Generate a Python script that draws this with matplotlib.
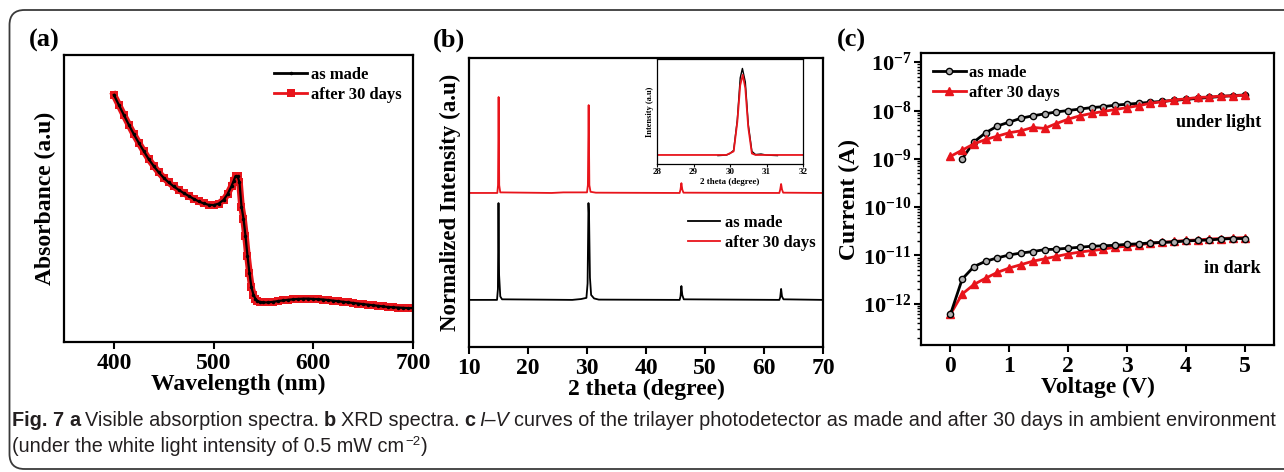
#!/usr/bin/env python3
import numpy as np
import matplotlib
matplotlib.use("Agg")
import matplotlib.pyplot as plt
from matplotlib.patches import FancyBboxPatch
from matplotlib.ticker import LogLocator, NullFormatter

plt.rcParams['font.family'] = ['Liberation Serif', 'DejaVu Serif']
plt.rcParams['font.weight'] = 'bold'
plt.rcParams['axes.labelweight'] = 'bold'
plt.rcParams['mathtext.fontset'] = 'custom'
plt.rcParams['mathtext.rm'] = 'Liberation Serif:bold'
plt.rcParams['mathtext.bf'] = 'Liberation Serif:bold'
plt.rcParams['mathtext.it'] = 'Liberation Serif:bold'

RED = '#e8141b'

# (a) absorption spectra
wavelength = [400, 405, 410, 415, 420, 425, 430, 435, 440, 445, 450, 455, 460, 465,
              470, 475, 480, 485, 490, 495, 500, 505, 510, 514, 518, 520, 522, 524,
              526, 528, 530, 532, 534, 536, 538, 540, 542, 544, 547, 550, 555, 560,
              565, 570, 575, 580, 585, 590, 595, 600, 605, 610, 615, 620, 625, 630,
              635, 640, 645, 650, 655, 660, 665, 670, 675, 680, 685, 690, 695, 700]
abs_made = [0.861, 0.826, 0.791, 0.757, 0.724, 0.694, 0.665, 0.637, 0.613, 0.591,
            0.572, 0.556, 0.542, 0.530, 0.519, 0.509, 0.499, 0.490, 0.483, 0.478,
            0.477, 0.482, 0.495, 0.515, 0.543, 0.560, 0.578, 0.578, 0.556, 0.472,
            0.430, 0.370, 0.300, 0.240, 0.190, 0.165, 0.150, 0.143, 0.139, 0.138,
            0.138, 0.140, 0.143, 0.145, 0.147, 0.149, 0.150, 0.151, 0.151, 0.150,
            0.149, 0.148, 0.146, 0.144, 0.142, 0.140, 0.138, 0.136, 0.134, 0.132,
            0.130, 0.128, 0.126, 0.124, 0.122, 0.121, 0.120, 0.119, 0.118, 0.118]
abs_30d = list(abs_made)

# (b) XRD
tt_made = [10, 14.75, 14.9, 15.0, 15.1, 15.3, 15.6, 27.5, 29.0, 29.9, 30.1, 30.25,
           30.35, 30.5, 30.7, 31.2, 32, 45.7, 45.85, 46.0, 46.15, 46.4, 62.6, 62.75,
           62.9, 63.05, 63.3, 70]
xrd_made = [0.163, 0.163, 0.20, 0.498, 0.25, 0.175, 0.165, 0.163, 0.166, 0.170, 0.22,
            0.498, 0.45, 0.24, 0.18, 0.168, 0.164, 0.163, 0.175, 0.211, 0.18, 0.165,
            0.163, 0.172, 0.201, 0.175, 0.165, 0.163]
tt_30d = [10, 14.8, 14.92, 15.02, 15.12, 15.3, 24, 26, 30.0, 30.15, 30.28, 30.4, 30.6,
          31.5, 45.7, 45.85, 46.0, 46.15, 46.35, 62.6, 62.75, 62.9, 63.05, 63.25, 70]
xrd_30d = [0.533, 0.533, 0.56, 0.865, 0.56, 0.535, 0.533, 0.535, 0.535, 0.56, 0.837,
           0.56, 0.537, 0.534, 0.533, 0.545, 0.567, 0.545, 0.534, 0.533, 0.545, 0.564,
           0.545, 0.534, 0.533]
# inset around the 30.3 degree peak
tt_in_made = [29.67, 29.9, 30.0, 30.1, 30.2, 30.28, 30.34, 30.42, 30.5, 30.6, 30.7,
              30.85, 31.0, 31.3]
in_made = [0.08, 0.085, 0.10, 0.13, 0.42, 0.82, 0.91, 0.78, 0.38, 0.12, 0.09, 0.095,
           0.085, 0.08]
tt_in_30d = [28, 29.9, 30.1, 30.2, 30.28, 30.35, 30.42, 30.5, 30.6, 30.7, 32]
in_30d = [0.086, 0.086, 0.12, 0.40, 0.75, 0.85, 0.72, 0.35, 0.10, 0.086, 0.086]

# (c) I-V, log10 of current (A)
volt = [0.0, 0.2, 0.4, 0.6, 0.8, 1.0, 1.2, 1.4, 1.6, 1.8, 2.0, 2.2, 2.4, 2.6, 2.8,
        3.0, 3.2, 3.4, 3.6, 3.8, 4.0, 4.2, 4.4, 4.6, 4.8, 5.0]
light_made = [-9.0, -8.65, -8.46, -8.32, -8.24, -8.16, -8.11, -8.07, -8.03, -8.00,
              -7.97, -7.94, -7.92, -7.89, -7.87, -7.85, -7.83, -7.81, -7.79, -7.77,
              -7.75, -7.73, -7.71, -7.69, -7.68]          # starts at 0.2 V
light_30d = [-8.95, -8.82, -8.69, -8.60, -8.53, -8.46, -8.42, -8.35, -8.37, -8.27,
             -8.18, -8.11, -8.06, -8.02, -7.98, -7.94, -7.90, -7.85, -7.82, -7.78,
             -7.76, -7.73, -7.72, -7.70, -7.70, -7.68]
dark_made = [-12.22, -11.49, -11.23, -11.12, -11.05, -10.99, -10.95, -10.92, -10.88,
             -10.87, -10.85, -10.83, -10.81, -10.80, -10.79, -10.77, -10.76, -10.74,
             -10.73, -10.72, -10.70, -10.69, -10.68, -10.66, -10.65, -10.65]
dark_30d = [-12.22, -11.80, -11.60, -11.47, -11.35, -11.26, -11.19, -11.12, -11.07,
            -11.02, -10.97, -10.93, -10.90, -10.87, -10.83, -10.81, -10.78, -10.75,
            -10.73, -10.71, -10.69, -10.68, -10.66, -10.65, -10.64, -10.63]
iv_yticks = [-12, -11, -10, -9, -8, -7]

W, H = 1284, 472
fig = plt.figure(figsize=(W / 100, H / 100), dpi=100)


def ax_at(l, t, r, b):
    # pixel box (left, top, right, bottom) -> axes
    return fig.add_axes([l / W, 1 - b / H, (r - l) / W, (b - t) / H])


def style(ax, lw=1.6):
    for s in ax.spines.values():
        s.set_linewidth(lw)
    ax.tick_params(direction='out', length=5, width=1.5, labelsize=17, pad=3)


# ---- (a)
ax = ax_at(64, 55, 413, 342)
style(ax)
ax.plot(wavelength, abs_30d, '-', color=RED, lw=4.8, marker='s', ms=5.5, mew=0,
        label='after 30 days')
ax.plot(wavelength, abs_made, '-', color='black', lw=1.6, marker='.', ms=3,
        label='as made')
ax.set_xlim(350, 700)
ax.set_ylim(0, 1)
ax.set_xticks([400, 500, 600, 700])
ax.set_yticks([])
ax.set_xlabel('Wavelength (nm)', fontsize=17, labelpad=0)
ax.set_ylabel('Absorbance (a.u)', fontsize=17, labelpad=6)
h, l = ax.get_legend_handles_labels()
leg = ax.legend(h[::-1], l[::-1], loc='upper right', frameon=False, fontsize=12,
                handlelength=2.0, handletextpad=0.2, borderaxespad=0.3,
                labelspacing=0.25)
for hl in leg.get_lines():
    hl.set_linewidth(2)

# ---- (b)
ax = ax_at(469, 58, 823, 347)
style(ax)
ax.plot(tt_made, xrd_made, color='black', lw=1.3, label='as made')
ax.plot(tt_30d, xrd_30d, color=RED, lw=1.3, label='after 30 days')
ax.set_xlim(10, 70)
ax.set_ylim(0, 1)
ax.set_xticks(range(10, 71, 10))
ax.set_yticks([])
ax.set_xlabel('2 theta (degree)', fontsize=17, labelpad=0)
ax.set_ylabel('Normalized Intensity (a.u)', fontsize=16.5, labelpad=6)
ax.legend(loc='upper left', bbox_to_anchor=(0.6, 0.48), frameon=False, fontsize=12,
          handlelength=1.9, handletextpad=0.3, borderaxespad=0, labelspacing=0.25)

ins = ax_at(657, 59, 803, 164)
for s in ins.spines.values():
    s.set_linewidth(0.9)
ins.plot(tt_in_made, in_made, color='black', lw=1.0)
ins.plot(tt_in_30d, in_30d, color=RED, lw=1.3)
ins.set_xlim(28, 32)
ins.set_ylim(0, 1)
ins.set_xticks([28, 29, 30, 31, 32])
ins.set_yticks([])
ins.tick_params(direction='out', length=2, width=0.8, labelsize=6.5, pad=1)
ins.set_xlabel('2 theta (degree)', fontsize=6.5, labelpad=1)
ins.set_ylabel('Intensity (a.u)', fontsize=6, labelpad=2)

# ---- (c)
ax = ax_at(921, 53, 1274, 345)
style(ax)
ax.set_yscale('log')
ax.plot(volt[1:], 10.0 ** np.array(light_made), '-', color='black', lw=2, marker='o',
        ms=4.5, mfc='#b0b0b0', mec='black', mew=1, label='as made')
ax.plot(volt, 10.0 ** np.array(light_30d), '-', color=RED, lw=2, marker='^', ms=6,
        mec=RED, label='after 30 days')
ax.plot(volt, 10.0 ** np.array(dark_30d), '-', color=RED, lw=2, marker='^', ms=6,
        mec=RED)
ax.plot(volt, 10.0 ** np.array(dark_made), '-', color='black', lw=2, marker='o',
        ms=4.5, mfc='#b0b0b0', mec='black', mew=1)
ax.set_xlim(-0.5, 5.5)
ax.set_ylim(1.4e-13, 1.55e-7)
ax.set_xticks(range(0, 6))
ax.set_yticks([10.0 ** e for e in iv_yticks])
ax.set_yticklabels([r'$10^{%d}$' % e for e in iv_yticks])
ax.yaxis.set_minor_locator(LogLocator(base=10, subs=np.arange(2, 10), numticks=20))
ax.yaxis.set_minor_formatter(NullFormatter())
ax.tick_params(axis='y', which='minor', direction='out', length=3, width=1)
ax.tick_params(axis='y', which='major', labelsize=16, pad=2)
ax.set_xlabel('Voltage (V)', fontsize=17, labelpad=0)
ax.set_ylabel('Current (A)', fontsize=17, labelpad=2)
ax.legend(loc='upper left', frameon=False, fontsize=12, handlelength=2.0,
          handletextpad=0.2, borderaxespad=0.3, labelspacing=0.25)
ax.text(5.28, 10 ** -8.25, 'under light', fontsize=13, ha='right', va='center')
ax.text(5.28, 10 ** -11.28, 'in dark', fontsize=13, ha='right', va='center')

# panel letters
for x, s in [(29, '(a)'), (433, '(b)'), (837, '(c)')]:
    fig.text(x / W, 1 - 40 / H, s, fontsize=19, ha='left', va='center')

# rounded frame, running off the right edge
frame = FancyBboxPatch((0.095, 0.03), 13.2, 4.59,
                       boxstyle='round,pad=0,rounding_size=0.15',
                       transform=fig.dpi_scale_trans, fill=False,
                       ec='#3a3a3a', lw=1.3, clip_on=False)
fig.add_artist(frame)

# caption
CAP = ['Liberation Sans', 'DejaVu Sans']
cap_col = '#231f20'
renderer = fig.canvas.get_renderer()


def runs(x, y, items, size=14.3):
    for txt, kw, gap, dy in items:
        t = fig.text(x / W, 1 - (y - dy) / H, txt, family=CAP, color=cap_col,
                     fontsize=kw.pop('size', size), va='baseline', ha='left', **kw)
        x = t.get_window_extent(renderer).x1 + gap


sp = 4.8
N = dict(weight='normal')
B = dict(weight='bold')
runs(12, 426, [
    ('Fig. 7', dict(B), sp, 0), ('a', dict(B), sp, 0),
    ('Visible absorption spectra.', dict(N), sp, 0), ('b', dict(B), sp, 0),
    ('XRD spectra.', dict(N), sp, 0), ('c', dict(B), sp, 0),
    ('I\u2013V', dict(weight='normal', style='italic'), sp, 0),
    ('curves of the trilayer photodetector as made and after 30 days in ambient environment',
     dict(N), sp, 0)])
runs(12, 452, [
    ('(under the white light intensity of 0.5 mW cm', dict(N), 1, 0),
    ('\u22122', dict(weight='normal', size=9.5), 1, 7),
    (')', dict(N), 0, 0)])

fig.savefig('out.png', dpi=100)
